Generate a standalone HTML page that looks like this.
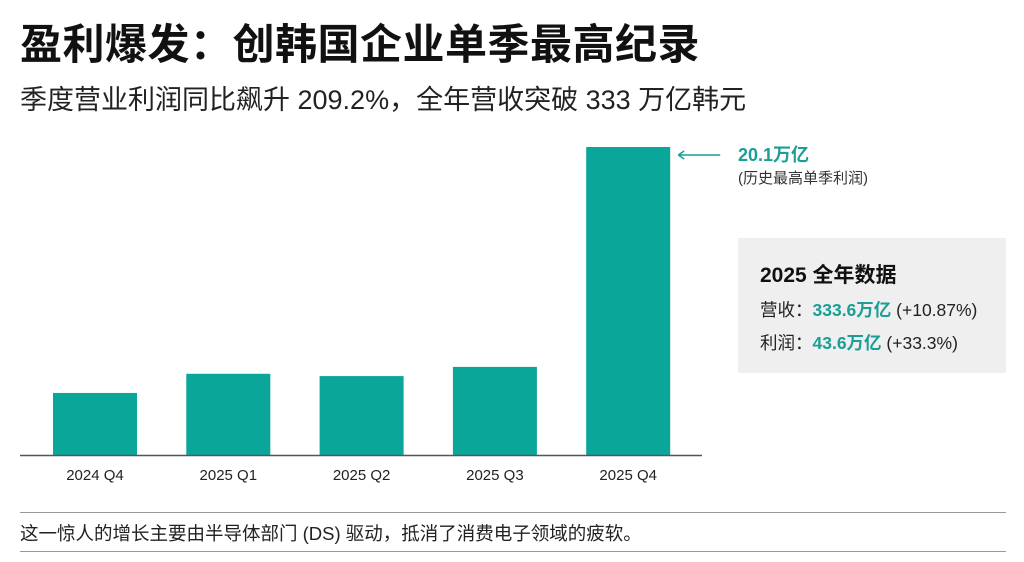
<!DOCTYPE html>
<html><head><meta charset="utf-8">
<style>
body{margin:0;width:1024px;height:562px;background:#fff;overflow:hidden;font-family:"Liberation Sans","Noto Sans CJK SC",sans-serif;color:#111}
.t{position:absolute;white-space:nowrap}
</style></head><body>
<div class="t" style="left:20px;top:20px;font-size:42px;line-height:50px;font-weight:bold;letter-spacing:0.5px">盈利爆发：创韩国企业单季最高纪录</div>
<div class="t" style="left:20px;top:82px;font-size:27px;line-height:36px;color:#222">季度营业利润同比飙升 209.2%，全年营收突破 333 万亿韩元</div>
<svg id="chart" width="1024" height="562" style="position:absolute;left:0;top:0"></svg>
<div class="t" style="left:738px;top:238px;width:268px;height:135px;background:#efefef"></div>
<div class="t" style="left:760px;top:259px;font-size:21px;font-weight:bold">2025 全年数据</div>
<div class="t" style="left:760px;top:297px;font-size:17.5px;color:#222">营收：<b style="color:#1a9e95">333.6万亿</b> (+10.87%)</div>
<div class="t" style="left:760px;top:330px;font-size:17.5px;color:#222">利润：<b style="color:#1a9e95">43.6万亿</b> (+33.3%)</div>
<div class="t" style="left:20px;top:512px;width:986px;height:1px;background:#999"></div>
<div class="t" style="left:20px;top:520px;font-size:18.5px;color:#222">这一惊人的增长主要由半导体部门 (DS) 驱动，抵消了消费电子领域的疲软。</div>
<div class="t" style="left:20px;top:551px;width:986px;height:1px;background:#999"></div>
<script>
const categories=["2024 Q4","2025 Q1","2025 Q2","2025 Q3","2025 Q4"];
const profits=[4.05,5.3,5.15,5.75,20.1];
const annotationText="20.1万亿";
const annotationSub="(历史最高单季利润)";
const svg=document.getElementById('chart');
const NS='http://www.w3.org/2000/svg';
const baseY=455,pxPerUnit=308/20.1,x0=53,step=133.3,bw=84;
function yS(v){return baseY-v*pxPerUnit;}
function xS(i){return x0+i*step;}
categories.forEach((c,i)=>{
 const r=document.createElementNS(NS,'rect');
 r.setAttribute('x',xS(i));r.setAttribute('y',yS(profits[i]));
 r.setAttribute('width',bw);r.setAttribute('height',baseY-yS(profits[i]));
 r.setAttribute('fill','#0aa699');
 
 
 svg.appendChild(r);
 const t=document.createElementNS(NS,'text');
 t.setAttribute('x',xS(i)+bw/2);t.setAttribute('y',baseY+25);
 t.setAttribute('text-anchor','middle');t.setAttribute('font-size','15');t.setAttribute('fill','#222');
 t.textContent=c;
 
 
 svg.appendChild(t);
});
const ax=document.createElementNS(NS,'line');
ax.setAttribute('x1',20);ax.setAttribute('x2',702);ax.setAttribute('y1',baseY+0.5);ax.setAttribute('y2',baseY+0.5);
ax.setAttribute('stroke','#555');ax.setAttribute('stroke-width','1.5');


svg.appendChild(ax);
const li=profits.length-1,ay=yS(profits[li])+8;
const ar=document.createElementNS(NS,'path');
ar.setAttribute('d',`M${xS(li)+bw+8} ${ay}H${xS(li)+bw+50}M${xS(li)+bw+8} ${ay}l6 -4M${xS(li)+bw+8} ${ay}l6 4`);
ar.setAttribute('stroke','#1a9e95');ar.setAttribute('stroke-width','1.5');ar.setAttribute('fill','none');


svg.appendChild(ar);
const at=document.createElementNS(NS,'text');
at.setAttribute('x',738);at.setAttribute('y',ay+6);at.setAttribute('font-size','18');at.setAttribute('font-weight','bold');at.setAttribute('fill','#1a9e95');
at.textContent=annotationText;


svg.appendChild(at);
const as=document.createElementNS(NS,'text');
as.setAttribute('x',738);as.setAttribute('y',ay+28);as.setAttribute('font-size','15');as.setAttribute('fill','#333');
as.textContent=annotationSub;


svg.appendChild(as);
</script>
</body></html>
